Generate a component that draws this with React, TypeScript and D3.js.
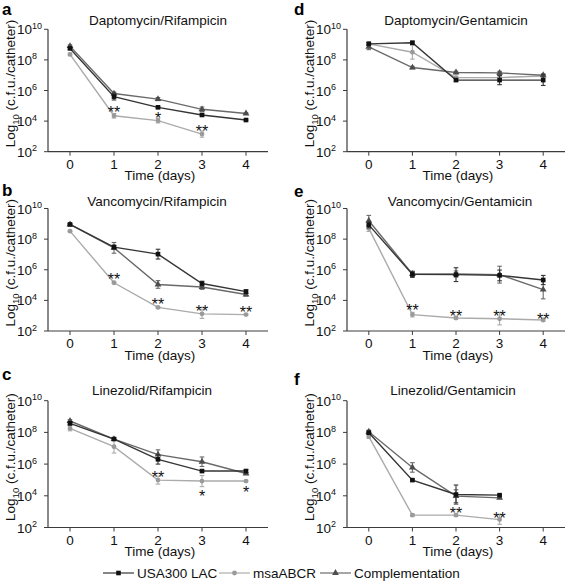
import React from "react";
import * as d3 from "d3";

// ---------- data (log10 c.f.u./catheter) ----------
const days = [0, 1, 2, 3, 4];
const seriesNames = ["USA300 LAC", "msaABCR", "Complementation"];
const yTickExps = [2, 4, 6, 8, 10];
const panelTitles = [
  "Daptomycin/Rifampicin",
  "Daptomycin/Gentamicin",
  "Vancomycin/Rifampicin",
  "Vancomycin/Gentamicin",
  "Linezolid/Rifampicin",
  "Linezolid/Gentamicin",
];
const panelLetters = ["a", "d", "b", "e", "c", "f"];

// a: Daptomycin/Rifampicin
const aUSA = [8.75, 5.6, 4.9, 4.4, 4.07];
const aUSAErr = [0.06, 0.22, 0.05, 0.08, 0.05];
const aMsa = [8.36, 4.35, 4.03, 3.15];
const aMsaErr = [0.08, 0.15, 0.15, 0.2];
const aComp = [8.9, 5.8, 5.44, 4.77, 4.5];
const aCompErr = [0.08, 0.1, 0.1, 0.15, 0.05];
const aStars = [
  { day: 1, text: "**", log: 4.83 },
  { day: 2, text: "*", log: 4.42 },
  { day: 3, text: "**", log: 3.55 },
];

// d: Daptomycin/Gentamicin
const dUSA = [9.05, 9.12, 6.68, 6.68, 6.68];
const dUSAErr = [0.1, 0.1, 0.08, 0.3, 0.35];
const dMsa = [9.05, 8.5, 6.84, 6.84, 6.95];
const dMsaErr = [0.1, 0.45, 0.08, 0.15, 0.12];
const dComp = [8.85, 7.5, 7.18, 7.15, 7.0];
const dCompErr = [0.18, 0.08, 0.08, 0.1, 0.08];
const dStars: { day: number; text: string; log: number }[] = [];

// b: Vancomycin/Rifampicin
const bUSA = [8.96, 7.48, 7.02, 5.1, 4.57];
const bUSAErr = [0.05, 0.12, 0.32, 0.15, 0.12];
const bMsa = [8.52, 5.15, 3.54, 3.12, 3.07];
const bMsaErr = [0.05, 0.05, 0.05, 0.3, 0.05];
const bComp = [8.96, 7.43, 5.04, 4.87, 4.38];
const bCompErr = [0.05, 0.35, 0.25, 0.15, 0.1];
const bStars = [
  { day: 1, text: "**", log: 5.65 },
  { day: 2, text: "**", log: 4.02 },
  { day: 3, text: "**", log: 3.54 },
  { day: 4, text: "**", log: 3.48 },
];

// e: Vancomycin/Gentamicin
const eUSA = [8.93, 5.7, 5.68, 5.63, 5.33];
const eUSAErr = [0.2, 0.2, 0.45, 0.35, 0.3];
const eMsa = [8.7, 3.07, 2.85, 2.8, 2.72];
const eMsaErr = [0.2, 0.15, 0.08, 0.4, 0.1];
const eComp = [9.2, 5.72, 5.72, 5.68, 4.7];
const eCompErr = [0.35, 0.15, 0.2, 0.55, 0.6];
const eStars = [
  { day: 1, text: "**", log: 3.63 },
  { day: 2, text: "**", log: 3.2 },
  { day: 3, text: "**", log: 3.2 },
  { day: 4, text: "**", log: 3.04 },
];

// c: Linezolid/Rifampicin
const cUSA = [8.57, 7.58, 6.3, 5.56, 5.56];
const cUSAErr = [0.1, 0.05, 0.3, 0.05, 0.1];
const cMsa = [8.25, 7.1, 4.99, 4.93, 4.93];
const cMsaErr = [0.15, 0.4, 0.25, 0.35, 0.05];
const cComp = [8.72, 7.58, 6.6, 6.15, 5.41];
const cCompErr = [0.08, 0.08, 0.3, 0.3, 0.05];
const cStars = [
  { day: 2, text: "**", log: 5.41 },
  { day: 3, text: "*", log: 4.19 },
  { day: 4, text: "*", log: 4.46 },
];

// f: Linezolid/Gentamicin
const fUSA = [7.98, 4.99, 4.08, 4.04];
const fUSAErr = [0.1, 0.05, 0.6, 0.05];
const fMsa = [7.73, 2.78, 2.78, 2.5];
const fMsaErr = [0.1, 0.08, 0.08, 0.3];
const fComp = [8.04, 5.79, 3.98, 3.87];
const fCompErr = [0.1, 0.3, 0.4, 0.05];
const fStars = [
  { day: 2, text: "**", log: 3.14 },
  { day: 3, text: "**", log: 2.84 },
];

const panelData = [
  { usa: aUSA, usaE: aUSAErr, msa: aMsa, msaE: aMsaErr, comp: aComp, compE: aCompErr, stars: aStars },
  { usa: dUSA, usaE: dUSAErr, msa: dMsa, msaE: dMsaErr, comp: dComp, compE: dCompErr, stars: dStars },
  { usa: bUSA, usaE: bUSAErr, msa: bMsa, msaE: bMsaErr, comp: bComp, compE: bCompErr, stars: bStars },
  { usa: eUSA, usaE: eUSAErr, msa: eMsa, msaE: eMsaErr, comp: eComp, compE: eCompErr, stars: eStars },
  { usa: cUSA, usaE: cUSAErr, msa: cMsa, msaE: cMsaErr, comp: cComp, compE: cCompErr, stars: cStars },
  { usa: fUSA, usaE: fUSAErr, msa: fMsa, msaE: fMsaErr, comp: fComp, compE: fCompErr, stars: fStars },
];

// ---------- layout ----------
const FONT = "'Liberation Sans', Arial, Helvetica, sans-serif";
const FS = 13.5;
const layouts = [
  { x0: 48, x1: 268, yt: 29.3, yb: 151.7, tx: 158, ty: 20, lx: 2, ly: 15 },
  { x0: 347, x1: 565, yt: 29.3, yb: 151.7, tx: 456, ty: 20, lx: 294, ly: 15 },
  { x0: 48, x1: 268, yt: 208.5, yb: 331, tx: 157, ty: 201, lx: 2, ly: 196 },
  { x0: 347, x1: 565, yt: 208.5, yb: 331, tx: 460, ty: 201, lx: 294, ly: 197 },
  { x0: 48, x1: 268, yt: 400.7, yb: 527.5, tx: 152, ty: 390, lx: 2, ly: 380 },
  { x0: 347, x1: 565, yt: 400.7, yb: 527.5, tx: 453, ty: 390, lx: 294, ly: 385 },
];

const styles = {
  usa: { line: "#353535", mark: "#111" },
  msa: { line: "#ababab", mark: "#9a9a9a" },
  comp: { line: "#6a6a6a", mark: "#4d4d4d" },
};
const AXIS = "#3c3c3c";

function Marker({ kind, x, y, color }: { kind: string; x: number; y: number; color: string }) {
  if (kind === "usa") return <rect x={x - 2.3} y={y - 2.3} width={4.6} height={4.6} fill={color} />;
  if (kind === "msa") return <circle cx={x} cy={y} r={2.4} fill={color} />;
  const tri = d3.symbol().type(d3.symbolTriangle).size(20)();
  return <path d={tri || ""} transform={`translate(${x},${y})`} fill={color} />;
}

function Series({ kind, vals, errs, x, y }: any) {
  const st = (styles as any)[kind];
  const pts = vals.map((v: number, i: number) => [x(days[i]), y(Math.pow(10, v))] as [number, number]);
  const line = d3.line()(pts) || "";
  return (
    <g>
      <path d={line} fill="none" stroke={st.line} strokeWidth={1.4} />
      {vals.map((v: number, i: number) => {
        const e = errs[i];
        const cx = x(days[i]);
        const ylo = y(Math.pow(10, v - e));
        const yhi = y(Math.pow(10, v + e));
        return (
          <g key={i} stroke={st.line} strokeWidth={1.1}>
            <line x1={cx} x2={cx} y1={ylo} y2={yhi} />
            <line x1={cx - 2.3} x2={cx + 2.3} y1={ylo} y2={ylo} />
            <line x1={cx - 2.3} x2={cx + 2.3} y1={yhi} y2={yhi} />
          </g>
        );
      })}
      {vals.map((v: number, i: number) => (
        <Marker key={"m" + i} kind={kind} x={pts[i][0]} y={pts[i][1]} color={st.mark} />
      ))}
    </g>
  );
}

function Panel({ idx }: { idx: number }) {
  const L = layouts[idx];
  const D = panelData[idx];
  const x = d3.scaleLinear().domain([-0.5, 4.5]).range([L.x0, L.x1]);
  const y = d3.scaleLog().domain([1e2, 1e10]).range([L.yb, L.yt]);
  const ymid = (L.yt + L.yb) / 2 - 7;
  return (
    <g fontFamily={FONT}>
      <text x={L.lx} y={L.ly} fontSize={17} fontWeight="bold" fill="#000">
        {panelLetters[idx]}
      </text>
      <text x={L.tx} y={L.ty + 5} fontSize={FS} textAnchor="middle" fill="#111">
        {panelTitles[idx]}
      </text>
      {/* axes */}
      <line x1={L.x0} x2={L.x0} y1={L.yt} y2={L.yb} stroke={AXIS} strokeWidth={1.2} />
      <line x1={L.x0} x2={L.x1} y1={L.yb} y2={L.yb} stroke={AXIS} strokeWidth={1.2} />
      {yTickExps.map((e) => {
        const ty = y(Math.pow(10, e));
        return (
          <g key={e}>
            <line x1={L.x0 - 4} x2={L.x0} y1={ty} y2={ty} stroke={AXIS} strokeWidth={1} />
            <text x={L.x0 - 31} y={ty + 5} fontSize={FS} fill="#111">
              10
              <tspan fontSize={9} dy={-5.5}>
                {e}
              </tspan>
            </text>
          </g>
        );
      })}
      {days.map((d) => (
        <g key={d}>
          <line x1={x(d)} x2={x(d)} y1={L.yb} y2={L.yb + 4} stroke={AXIS} strokeWidth={1} />
          <text x={x(d)} y={L.yb + 17} fontSize={FS} textAnchor="middle" fill="#111">
            {d}
          </text>
        </g>
      ))}
      <text x={(L.x0 + L.x1) / 2 + 2} y={L.yb + 28.5} fontSize={FS} textAnchor="middle" fill="#111">
        Time (days)
      </text>
      <text
        transform={`translate(${L.x0 - 33},${ymid}) rotate(-90)`}
        fontSize={FS}
        textAnchor="middle"
        fill="#111"
      >
        Log
        <tspan fontSize={9.5} dy={4}>
          10
        </tspan>
        <tspan dy={-4}> (c.f.u./catheter)</tspan>
      </text>
      {/* series */}
      <Series kind="msa" vals={D.msa} errs={D.msaE} x={x} y={y} />
      <Series kind="comp" vals={D.comp} errs={D.compE} x={x} y={y} />
      <Series kind="usa" vals={D.usa} errs={D.usaE} x={x} y={y} />
      {D.stars.map((s, i) => (
        <text
          key={i}
          x={x(s.day)}
          y={y(Math.pow(10, s.log)) + 9.5}
          fontSize={16}
          textAnchor="middle"
          fill="#111"
        >
          {s.text}
        </text>
      ))}
    </g>
  );
}

function Legend() {
  const items = [
    { kind: "usa", x: 103 },
    { kind: "msa", x: 219 },
    { kind: "comp", x: 320 },
  ];
  const ly = 573;
  return (
    <g fontFamily={FONT}>
      {items.map((it, i) => {
        const st = (styles as any)[it.kind];
        return (
          <g key={i}>
            <line x1={it.x} x2={it.x + 31} y1={ly} y2={ly} stroke={st.line} strokeWidth={1.2} />
            <Marker kind={it.kind} x={it.x + 15.5} y={ly} color={st.mark} />
            <text x={it.x + 34} y={ly + 5} fontSize={FS} fill="#111">
              {seriesNames[i]}
            </text>
          </g>
        );
      })}
    </g>
  );
}

export default function App() {
  return (
    <svg
      width={567}
      height={581}
      style={{ position: "absolute", left: 0, top: 0, background: "#fff" }}
    >
      <rect width={567} height={581} fill="#fff" />
      {layouts.map((_, i) => (
        <Panel key={i} idx={i} />
      ))}
      <Legend />
    </svg>
  );
}
